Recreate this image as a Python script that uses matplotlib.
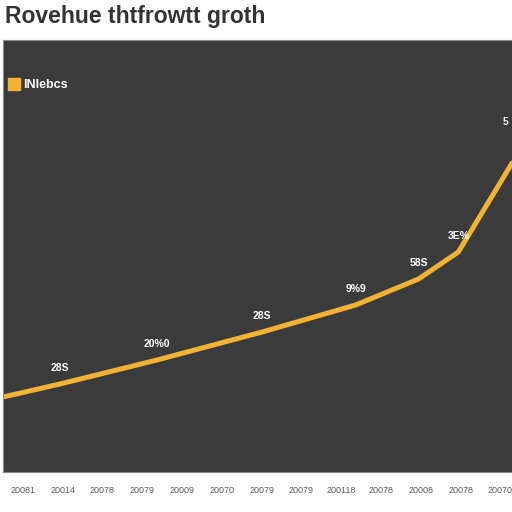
import matplotlib
matplotlib.use("Agg")
import matplotlib.pyplot as plt
from matplotlib.lines import Line2D

title = "Rovehue thtfrowtt groth"
legend_label = "INlebcs"
tick_labels = ["20081", "20014", "20078", "20079", "20009", "20070",
               "20079", "20079", "200118", "20078", "20008", "20078", "20070"]
x_vals = [0.5, 1.93, 4.37, 7.01, 9.36, 10.94, 11.94, 13.29]
y_vals = [75, 88, 112, 140, 167, 193, 220, 309]
point_labels = ["", "28S", "20%0", "28S", "9%9", "58S", "3E%", ""]
top_label_x = 13.05
top_label_y = 350
top_label = "5"

fig = plt.figure(figsize=(5.12, 5.12), dpi=100)
fig.patch.set_facecolor("white")
ax = fig.add_axes([3/512, 40/512, 527/512, 432/512])
ax.set_facecolor("#3b3b3b")

line_color = "#f2b233"
ax.plot(x_vals, y_vals, color=line_color, lw=3.6, solid_capstyle="round",
        solid_joinstyle="round")

for x, y, lab in zip(x_vals, y_vals, point_labels):
    if lab:
        ax.annotate(lab, (x, y), xytext=(0, 8), textcoords="offset points",
                    ha="center", va="bottom", color="white", fontsize=7.5,
                    fontweight="bold", family="Liberation Sans")
ax.text(top_label_x, top_label_y, top_label, color="white", fontsize=7.5,
        fontweight="bold", ha="left", va="center", family="Liberation Sans")

ax.set_xticks(range(1, len(tick_labels) + 1))
ax.set_xticklabels(tick_labels, fontsize=6.5, color="#5a5a5a", family="Liberation Sans")
ax.set_xlim(0.5, 13.74)
ax.set_ylim(0, 432)
ax.tick_params(axis="x", length=0, pad=10)
ax.set_yticks([])
for s in ax.spines.values():
    s.set_color("#8a8a8a")
    s.set_linewidth(0.8)

handle = Line2D([], [], marker="s", color="none", markerfacecolor=line_color,
                markeredgecolor=line_color, markersize=8.5)
leg = ax.legend([handle], [legend_label], loc="upper left", bbox_to_anchor=(-0.012, 0.935),
                frameon=False, handletextpad=0.2, handlelength=1.0,
                prop={"family": "Liberation Sans", "weight": "bold", "size": 9})
for t in leg.get_texts():
    t.set_color("white")

fig.text(5/512, 1 - 16/512, title, fontsize=16.5, fontweight="bold", color="#333333",
         family="Liberation Sans", ha="left", va="center")

fig.savefig("out.png", dpi=100)
